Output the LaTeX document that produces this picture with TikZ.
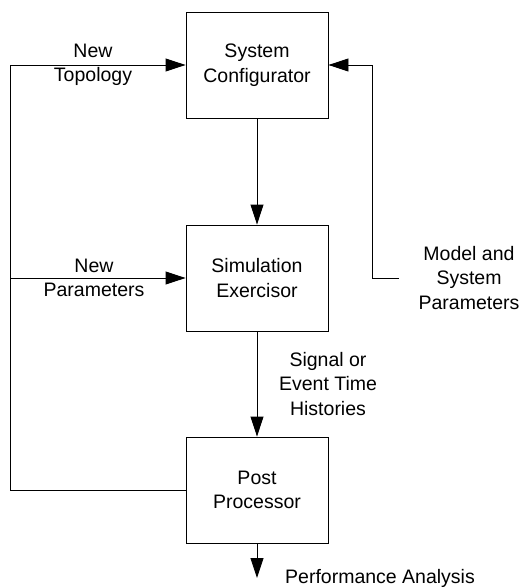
\documentclass[tikz,border=0pt]{standalone}
\usepackage{fontspec}
\setmainfont{Liberation Sans}
\usetikzlibrary{arrows.meta}
\begin{document}
\begin{tikzpicture}[x=1pt,y=-1pt,
  blk/.style={draw,line width=0.9pt,minimum width=142pt,minimum height=106pt,inner sep=0pt,align=center,font=\fontsize{19.5}{24.5}\selectfont},
  lbl/.style={align=center,inner sep=0pt,font=\fontsize{19.5}{24.5}\selectfont},
  conn/.style={line width=0.9pt},
  arr/.style={conn,-{Triangle[length=20pt,width=13pt]}}]
\useasboundingbox (0,0) rectangle (522,588);
\node[blk] (sc) at (257,65) {System\\Configurator};
\node[blk] (se) at (257,278) {Simulation\\Exercisor};
\node[blk] (pp) at (257,490) {Post\\Processor};
\node[lbl] (t1) at (93,65) {New\\Topology};
\node[lbl] (t2) at (94,278) {New\\Parameters};
\node[lbl] (t3) at (469,278) {Model and\\System\\Parameters};
\node[lbl] (t4) at (328,384) {Signal or\\Event Time\\Histories};
\node[lbl,anchor=west] (t5) at (285,578) {Performance Analysis};
\coordinate (lb) at (10,490);
\coordinate (lt) at (10,65);
\coordinate (lm) at (10,278);
\coordinate (rs) at (399,278);
\coordinate (rc) at (372,278);
\coordinate (rt) at (372,65);
\coordinate (out) at (257,578);
\draw[arr] (sc) -- (se);
\draw[arr] (se) -- (pp);
\draw[arr] (pp.west) -- (lb) -- (lt) -- (sc.west);
\draw[arr] (lm) -- (se.west);
\draw[arr] (rs) -- (rc) -- (rt) -- (sc.east);
\draw[arr] (pp.south) -- (out);
\end{tikzpicture}
\end{document}
